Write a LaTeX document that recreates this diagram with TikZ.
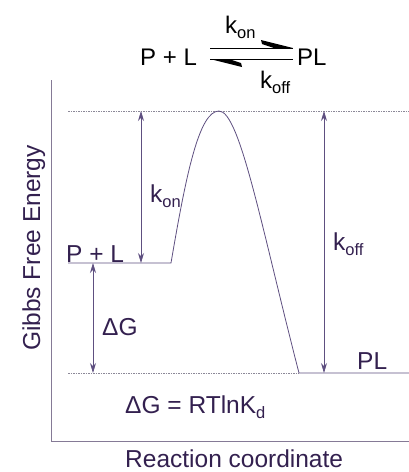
\documentclass[tikz,border=0pt]{standalone}
\usepackage{fontspec}
\setmainfont{Liberation Sans}
\usetikzlibrary{arrows.meta}
\definecolor{txt}{HTML}{33204F}
\definecolor{lnc}{HTML}{5E4F80}
\definecolor{axc}{HTML}{857A96}
\definecolor{dotc}{HTML}{8C8898}
\newcommand{\subx}[1]{\raisebox{-5.5pt}{\fontsize{16.5}{16.5}\selectfont #1}}
\begin{document}
\begin{tikzpicture}[x=1pt,y=-1pt,
  lbl/.style={text=txt, font=\fontsize{24.5}{24.5}\selectfont, inner sep=0pt},
  blk/.style={text=black, font=\fontsize{24}{24}\selectfont, inner sep=0pt},
  dotline/.style={draw=dotc, line width=0.6pt, dash pattern=on 1.5pt off 1pt},
  level/.style={draw=lnc, line width=0.8pt},
  axisline/.style={draw=axc, line width=0.9pt},
  dimarrow/.style={draw=lnc, line width=0.8pt, {Stealth[length=10pt,width=6pt]}-{Stealth[length=10pt,width=6pt]}},
  eqline/.style={draw=black, line width=1pt}]
\useasboundingbox (0,0) rectangle (409,472);
% axes
\coordinate (axtop) at (51,80);
\coordinate (origin) at (51,441);
\coordinate (axend) at (409,441);
\draw[axisline] (axtop) -- (origin) -- (axend);
% dotted reference lines
\coordinate (ts) at (68,111);
\coordinate (te) at (409,111);
\draw[dotline] (ts) -- (te);
\coordinate (bs) at (68,373);
\coordinate (plc) at (299,373);
\coordinate (ple) at (409,373);
\draw[dotline] (bs) -- (plc);
% energy profile
\coordinate (rs) at (68,263);
\coordinate (rc) at (171,263);
\coordinate (peak) at (219,111);
\draw[level] (rs) -- (rc) .. controls (186,175) and (199,111) .. (peak)
  .. controls (240,111) and (262,230) .. (plc) -- (ple);
% dimension arrows
\coordinate (kont) at (141,111);
\coordinate (konb) at (141,263);
\draw[dimarrow] (kont) -- (konb);
\coordinate (kofft) at (324,111);
\coordinate (koffb) at (324,373);
\draw[dimarrow] (kofft) -- (koffb);
\coordinate (dgt) at (93,263);
\coordinate (dgb) at (93,373);
\draw[dimarrow] (dgt) -- (dgb);
% labels
\node[lbl, anchor=base west] (konl) at (150,202) {k\subx{on}};
\node[lbl, anchor=base west] (koffl) at (333,250) {k\subx{off}};
\node[lbl, anchor=base west] (dgl) at (102,335) {ΔG};
\node[lbl, anchor=base west] (pll) at (66,262) {P + L};
\node[lbl, anchor=base west] (plr) at (357,369) {PL};
\node[lbl, anchor=base west] (eq) at (125,413) {ΔG = RTlnK\subx{d}};
\node[lbl, anchor=base west] (xlab) at (125,467) {Reaction coordinate};
\node[lbl, rotate=90, anchor=base] (ylab) at (40,248) {Gibbs Free Energy};
% top reaction
\node[blk, anchor=base west] (r1) at (140,65) {P + L};
\node[blk, anchor=base west] (r2) at (297,65) {PL};
\node[blk, anchor=base west] (k1) at (225,33) {k\subx{on}};
\node[blk, anchor=base west] (k2) at (260,88) {k\subx{off}};
\coordinate (a1) at (210,48);
\coordinate (a2) at (293,48);
\coordinate (b1) at (210,59);
\coordinate (b2) at (293,59);
\draw[eqline] (a1) -- (a2);
\draw[eqline] (b1) -- (b2);
\fill[black] (a2) -- (261,40) -- (262,44) -- (274,48) -- cycle;
\fill[black] (b1) -- (242,67) -- (241,63) -- (229,59) -- cycle;
\end{tikzpicture}
\end{document}
